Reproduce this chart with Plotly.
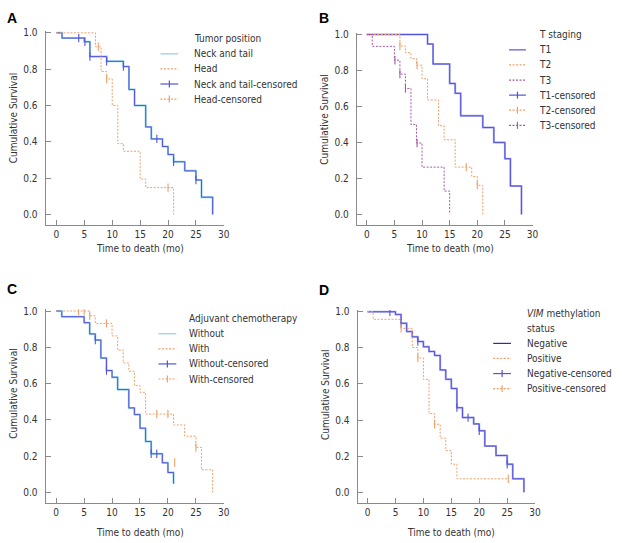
import plotly.graph_objects as go

W, H = 622, 543
FONT = "DejaVu Sans Condensed"
FS = 10
TXT = "#333333"
AX = "#8a8a8a"
BLUE = "#5454dc"
CYAN = "#8ccfea"
NAVY = "#30309a"
ORANGE = "#f0a068"
PURPLE = "#a45aa8"

# ---------------- data ----------------
# Panel A: tumor position
a_nt_t = [0, 1, 5, 6, 9, 12, 13, 14, 16, 17, 19, 20, 21, 23, 25, 26, 28]
a_nt_s = [1.0, 0.971, 0.951, 0.869, 0.843, 0.814, 0.688, 0.600, 0.482, 0.416, 0.374, 0.330, 0.290, 0.240, 0.190, 0.095, 0.0]
a_nt_ct = [4, 5.1, 6, 9, 12, 18, 21, 25]
a_nt_cs = [0.971, 0.951, 0.869, 0.843, 0.814, 0.416, 0.290, 0.190]
a_hd_t = [0, 7, 8, 9, 10, 11, 12, 15, 16, 21]
a_hd_s = [1.0, 0.923, 0.787, 0.746, 0.600, 0.390, 0.348, 0.195, 0.148, 0.0]
a_hd_ct = [7.5, 9, 20]
a_hd_cs = [0.923, 0.746, 0.148]

# Panel B: T staging
b_t1_t = [0, 11, 12, 15, 16, 17, 21, 23, 25, 26, 28]
b_t1_s = [1.0, 0.947, 0.836, 0.728, 0.673, 0.548, 0.483, 0.400, 0.310, 0.158, 0.0]
b_t2_t = [0, 6, 7, 8, 9, 10, 11, 13, 14, 16, 19, 20, 21]
b_t2_s = [1.0, 0.936, 0.899, 0.866, 0.829, 0.754, 0.636, 0.493, 0.415, 0.263, 0.211, 0.162, 0.0]
b_t2_ct = [6, 9.1, 18, 20]
b_t2_cs = [0.936, 0.829, 0.263, 0.162]
b_t3_t = [0, 1, 5, 6, 7, 8, 9, 10, 14, 15]
b_t3_s = [1.0, 0.934, 0.857, 0.780, 0.700, 0.500, 0.397, 0.263, 0.130, 0.0]
b_t3_ct = [5.1, 6, 7, 9.1]
b_t3_cs = [0.857, 0.780, 0.700, 0.397]

# Panel C: adjuvant chemotherapy
c_wo_t = [0, 1, 5, 6, 7, 8, 9, 10, 11, 13, 14, 15, 16, 17, 19, 20, 21]
c_wo_s = [1.0, 0.969, 0.936, 0.874, 0.840, 0.741, 0.672, 0.635, 0.567, 0.466, 0.429, 0.354, 0.281, 0.213, 0.163, 0.110, 0.048]
c_wo_ct = [7, 9, 17, 18]
c_wo_cs = [0.840, 0.672, 0.213, 0.213]
c_w_t = [0, 6, 7, 10, 11, 12, 13, 14, 15, 16, 21, 23, 25, 26, 28]
c_w_s = [1.0, 0.974, 0.932, 0.863, 0.785, 0.714, 0.668, 0.589, 0.552, 0.432, 0.372, 0.310, 0.248, 0.125, 0.0]
c_w_ct = [4, 5, 6, 9, 18, 20, 25, 21.2]
c_w_cs = [1.0, 1.0, 0.974, 0.932, 0.432, 0.432, 0.248, 0.165]

# Panel D: VIM methylation status
d_n_t = [0, 5, 6, 7, 8, 9, 10, 11, 12, 13, 14, 15, 16, 17, 19, 20, 21, 23, 25, 26, 28]
d_n_s = [1.0, 0.985, 0.936, 0.890, 0.861, 0.835, 0.806, 0.780, 0.758, 0.678, 0.626, 0.575, 0.469, 0.414, 0.379, 0.341, 0.256, 0.204, 0.156, 0.075, 0.0]
d_n_ct = [4, 6, 9, 16, 18, 20, 25]
d_n_cs = [1.0, 0.936, 0.835, 0.469, 0.414, 0.341, 0.156]
d_p_t = [0, 1, 6, 8, 9, 10, 11, 12, 13, 14, 15, 16, 25.2]
d_p_s = [1.0, 0.958, 0.908, 0.802, 0.744, 0.625, 0.436, 0.377, 0.300, 0.231, 0.156, 0.075, 0.075]
d_p_ct = [6, 9, 12, 25.2]
d_p_cs = [0.908, 0.744, 0.377, 0.075]

x_ticks = [0, 5, 10, 15, 20, 25, 30]
y_ticks = [0.0, 0.2, 0.4, 0.6, 0.8, 1.0]
y_ticktext = ["0.0", "0.2", "0.4", "0.6", "0.8", "1.0"]

# ---------------- layout geometry (pixels) ----------------
panels = {
    "A": dict(x=(46, 226), xr=(-1.95, 30), y=(27.2, 223.0)),
    "B": dict(x=(360.3, 537.7), xr=(-1.8, 30), y=(28.9, 222.9)),
    "C": dict(x=(46, 226), xr=(-1.9, 30), y=(307.5, 503.0)),
    "D": dict(x=(361, 540.3), xr=(-1.8, 30), y=(308.2, 502.9)),
}
YR = (-0.06, 1.01)


def px(x):
    return x / W


def py(y):
    return 1 - y / H


fig = go.Figure()
axis_ids = {"A": ("x", "y"), "B": ("x2", "y2"), "C": ("x3", "y3"), "D": ("x4", "y4")}

layout_axes = {}
for i, (k, p) in enumerate(panels.items()):
    n = "" if i == 0 else str(i + 1)
    common = dict(showline=True, linecolor=AX, linewidth=1, ticks="inside", ticklen=5,
                  tickwidth=1, tickcolor=AX, showgrid=False, zeroline=False,
                  tickfont=dict(family=FONT, size=FS, color=TXT), fixedrange=True)
    layout_axes["xaxis" + n] = dict(domain=[px(p["x"][0]), px(p["x"][1])], range=list(p["xr"]),
                                    tickvals=x_ticks, anchor="y" + n, ticklabelstandoff=0, **common)
    layout_axes["yaxis" + n] = dict(domain=[py(p["y"][1]), py(p["y"][0])], range=list(YR),
                                    tickvals=y_ticks, ticktext=y_ticktext, anchor="x" + n,
                                    ticklabelstandoff=5, **common)


def step(t, s, color, width, dash, ax):
    xa, ya = axis_ids[ax]
    fig.add_trace(go.Scatter(x=t, y=s, mode="lines", line=dict(color=color, width=width, dash=dash, shape="hv"),
                             xaxis=xa, yaxis=ya, showlegend=False, hoverinfo="skip"))


def cens(t, s, color, ax):
    xa, ya = axis_ids[ax]
    fig.add_trace(go.Scatter(x=t, y=s, mode="markers",
                             marker=dict(symbol="line-ns", size=6, color=color, line=dict(color=color, width=1.1)),
                             xaxis=xa, yaxis=ya, showlegend=False, hoverinfo="skip"))


DOT = "2px,1.5px"
# A
step(a_nt_t, a_nt_s, CYAN, 2.0, "solid", "A")
step(a_nt_t, a_nt_s, BLUE, 1.0, "solid", "A")
cens(a_nt_ct, a_nt_cs, BLUE, "A")
step(a_hd_t, a_hd_s, ORANGE, 1.0, DOT, "A")
cens(a_hd_ct, a_hd_cs, ORANGE, "A")
# B
step(b_t1_t, b_t1_s, "#a4a4f2", 2.0, "solid", "B")
step(b_t1_t, b_t1_s, BLUE, 1.0, "solid", "B")
step(b_t2_t, b_t2_s, ORANGE, 1.0, DOT, "B")
cens(b_t2_ct, b_t2_cs, ORANGE, "B")
step(b_t3_t, b_t3_s, PURPLE, 1.0, DOT, "B")
cens(b_t3_ct, b_t3_cs, PURPLE, "B")
# C
step(c_wo_t, c_wo_s, CYAN, 2.0, "solid", "C")
step(c_wo_t, c_wo_s, BLUE, 1.0, "solid", "C")
cens(c_wo_ct, c_wo_cs, BLUE, "C")
step(c_w_t, c_w_s, ORANGE, 1.0, DOT, "C")
cens(c_w_ct, c_w_cs, ORANGE, "C")
# D
step(d_n_t, d_n_s, "#a4a4f2", 2.0, "solid", "D")
step(d_n_t, d_n_s, BLUE, 1.0, "solid", "D")
cens(d_n_ct, d_n_cs, BLUE, "D")
step(d_p_t, d_p_s, ORANGE, 1.0, DOT, "D")
cens(d_p_ct, d_p_cs, ORANGE, "D")

annotations = []
shapes = []


def text(x, y, s, size=FS, anchor="left", bold=False, angle=0, xref="paper", color=TXT):
    annotations.append(dict(x=x if xref != "paper" else px(x), y=py(y), xref=xref, yref="paper", text=s,
                            showarrow=False, xanchor=anchor, yanchor="middle", textangle=angle,
                            font=dict(family="Liberation Sans" if bold else FONT, size=size, color=color)))


# panel letters
for lab, (lx, ly) in {"A": (11.7, 13.8), "B": (327, 13.8), "C": (11.7, 286.7), "D": (327, 288)}.items():
    text(lx, ly, "<b>%s</b>" % lab, size=14, anchor="center", bold=True, color="#000000")

# axis titles
for k, (xy, yx, yy) in {"A": (246, 13.3, 115), "B": (246, 328, 116.7), "C": (532, 13.3, 392.5), "D": (532, 328, 394)}.items():
    xa, _ = axis_ids[k]
    text(15, xy, "Time to death (mo)", anchor="center", xref=xa)
    text(yx, yy, "Cumulative Survival", anchor="center", angle=-90)

# legends
legend_A_title = ["Tumor position"]
legend_A = [("Neck and tail", CYAN, "solid", False), ("Head", ORANGE, "dot", False),
            ("Neck and tail-censored", BLUE, "solid", True), ("Head-censored", ORANGE, "dot", True)]
legend_B_title = ["T staging"]
legend_B = [("T1", BLUE, "solid", False), ("T2", ORANGE, "dot", False), ("T3", PURPLE, "dot", False),
            ("T1-censored", BLUE, "solid", True), ("T2-censored", ORANGE, "dot", True),
            ("T3-censored", PURPLE, "dot", True)]
legend_C_title = ["Adjuvant chemotherapy"]
legend_C = [("Without", CYAN, "solid", False), ("With", ORANGE, "dot", False),
            ("Without-censored", BLUE, "solid", True), ("With-censored", ORANGE, "dot", True)]
legend_D_title = ["<i>VIM</i> methylation", "status"]
legend_D = [("Negative", NAVY, "solid", False), ("Positive", ORANGE, "dot", False),
            ("Negative-censored", BLUE, "solid", True), ("Positive-censored", ORANGE, "dot", True)]


def draw_legend(titles, items, sx0, sx1, tx, y0, dy):
    y = y0
    for t in titles:
        text(tx, y, t)
        y += dy
    for lab, col, dash, mk in items:
        shapes.append(dict(type="line", xref="paper", yref="paper", x0=px(sx0), x1=px(sx1), y0=py(y), y1=py(y),
                           line=dict(color=col, width=1.2, dash="2px,1.5px" if dash == "dot" else "solid")))
        if mk:
            cx = (sx0 + sx1) / 2
            shapes.append(dict(type="line", xref="paper", yref="paper", x0=px(cx), x1=px(cx),
                               y0=py(y - 3.5), y1=py(y + 3.5), line=dict(color=col, width=1.2)))
        text(tx, y, lab)
        y += dy


draw_legend(legend_A_title, legend_A, 162, 180, 194, 35, 15.2)
draw_legend(legend_B_title, legend_B, 514, 531, 542, 31, 15.2)
draw_legend(legend_C_title, legend_C, 160, 178, 189, 317, 15.2)
draw_legend(legend_D_title, legend_D, 498, 516, 530, 311.5, 15.2)

fig.update_layout(width=W, height=H, margin=dict(l=0, r=0, t=0, b=0), paper_bgcolor="white",
                  plot_bgcolor="white", showlegend=False, annotations=annotations, shapes=shapes,
                  font=dict(family=FONT, size=FS, color=TXT), **layout_axes)

fig.write_html("out.html", config={"displayModeBar": False},
               post_script="document.body.style.margin='0px';document.body.style.padding='0px';")
